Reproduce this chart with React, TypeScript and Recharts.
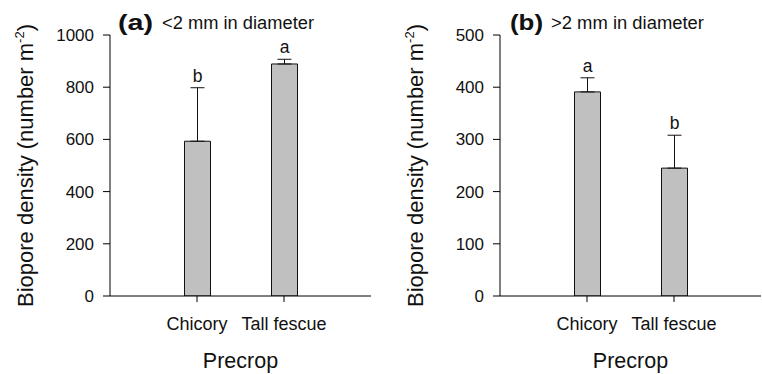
import React from 'react';
import { BarChart, Bar, XAxis, YAxis, ErrorBar, LabelList } from 'recharts';

const categories = ['Chicory', 'Tall fescue'];
const smallMeans = [593, 889];
const smallErrors = [205, 18];
const smallLetters = ['b', 'a'];
const smallTicks = [0, 200, 400, 600, 800, 1000];
const largeMeans = [391, 245];
const largeErrors = [27, 63];
const largeLetters = ['a', 'b'];
const largeTicks = [0, 100, 200, 300, 400, 500];

const FONT = '"Liberation Sans", Arial, Helvetica, sans-serif';
const INK = '#111';

function buildData(means: number[], errors: number[], letters: string[]) {
  return categories.map((c, i) => ({
    name: c,
    mean: means[i],
    err: [0, errors[i]],
    letter: letters[i],
  }));
}

function makeLetter(means: number[], errors: number[], letters: string[]) {
  return (props: any) => {
    const vb = props.viewBox || props;
    const x = props.x ?? vb.x;
    const y = props.y ?? vb.y;
    const width = props.width ?? vb.width;
    const height = props.height ?? vb.height;
    let idx = props.index;
    if (idx === undefined || idx === null) idx = letters.indexOf(props.value);
    const errPx = (errors[idx] * Math.abs(height)) / means[idx];
    return (
      <text
        x={x + width / 2}
        y={y - errPx - 6}
        textAnchor="middle"
        fontSize={17.5}
        fontFamily={FONT}
        fill={INK}
      >
        {props.value}
      </text>
    );
  };
}

const yLabel = (props: any) => {
  const vb = props.viewBox || {};
  const cx = vb.x - 17;
  const cy = vb.y + vb.height / 2;
  return (
    <text
      x={cx}
      y={cy}
      transform={`rotate(-90, ${cx}, ${cy})`}
      textAnchor="middle"
      fontSize={22}
      fontFamily={FONT}
      fill={INK}
    >
      <tspan>Biopore density (number m</tspan>
      <tspan fontSize={13} dy={-9}>-2</tspan>
      <tspan dy={9}>)</tspan>
    </text>
  );
};

function Panel(props: {
  means: number[];
  errors: number[];
  letters: string[];
  ticks: number[];
  left: number;
  marginLeft: number;
  marginRight: number;
}) {
  const data = buildData(props.means, props.errors, props.letters);
  const max = props.ticks[props.ticks.length - 1];
  return (
    <div style={{ position: 'absolute', left: props.left, top: 0 }}>
      <BarChart
        width={381}
        height={374}
        data={data}
        margin={{ top: 35, right: props.marginRight, bottom: 0, left: props.marginLeft }}
      >
        <XAxis
          dataKey="name"
          height={78}
          padding={{ left: 43.5, right: 43.5 }}
          axisLine={{ stroke: '#000', strokeWidth: 1 }}
          tickLine={{ stroke: '#000', strokeWidth: 1 }}
          tickSize={6}
          tickMargin={15}
          tick={{ fontSize: 18, fontFamily: FONT, fill: INK }}
          interval={0}
          label={{ value: 'Precrop', position: 'insideBottom', offset: 6, fontSize: 21.5, fontFamily: FONT, fill: INK }}
        />
        <YAxis
          width={60}
          domain={[0, max]}
          ticks={props.ticks}
          interval={0}
          allowDataOverflow
          axisLine={{ stroke: '#000', strokeWidth: 1 }}
          tickLine={{ stroke: '#000', strokeWidth: 1 }}
          tickSize={7}
          tickMargin={9}
          tick={{ fontSize: 17, fontFamily: FONT, fill: INK }}
          label={yLabel}
        />
        <Bar
          dataKey="mean"
          fill="#c0c0c0"
          stroke="#111"
          strokeWidth={1}
          barSize={26}
          isAnimationActive={false}
        >
          <ErrorBar dataKey="err" width={7} stroke="#111" strokeWidth={1} direction="y" isAnimationActive={false} />
          <LabelList dataKey="letter" content={makeLetter(props.means, props.errors, props.letters)} />
        </Bar>
      </BarChart>
    </div>
  );
}

export default function App() {
  return (
    <div style={{ position: 'absolute', left: 0, top: 0, width: 762, height: 374, background: '#fff', overflow: 'hidden' }}>
      <Panel
        means={smallMeans}
        errors={smallErrors}
        letters={smallLetters}
        ticks={smallTicks}
        left={0}
        marginLeft={50}
        marginRight={10}
      />
      <Panel
        means={largeMeans}
        errors={largeErrors}
        letters={largeLetters}
        ticks={largeTicks}
        left={381}
        marginLeft={59}
        marginRight={1}
      />
      <svg width={762} height={374} style={{ position: 'absolute', left: 0, top: 0, pointerEvents: 'none' }}>
        <text x={118} y={30} fontSize={22} fontWeight="bold" fontFamily={FONT} fill={INK} textLength={35} lengthAdjust="spacingAndGlyphs">(a)</text>
        <text x={162} y={29} fontSize={17.5} fontFamily={FONT} fill={INK} textLength={152} lengthAdjust="spacingAndGlyphs">&lt;2 mm in diameter</text>
        <text x={510} y={30} fontSize={22} fontWeight="bold" fontFamily={FONT} fill={INK} textLength={33} lengthAdjust="spacingAndGlyphs">(b)</text>
        <text x={551} y={29} fontSize={17.5} fontFamily={FONT} fill={INK} textLength={153} lengthAdjust="spacingAndGlyphs">&gt;2 mm in diameter</text>
      </svg>
    </div>
  );
}
